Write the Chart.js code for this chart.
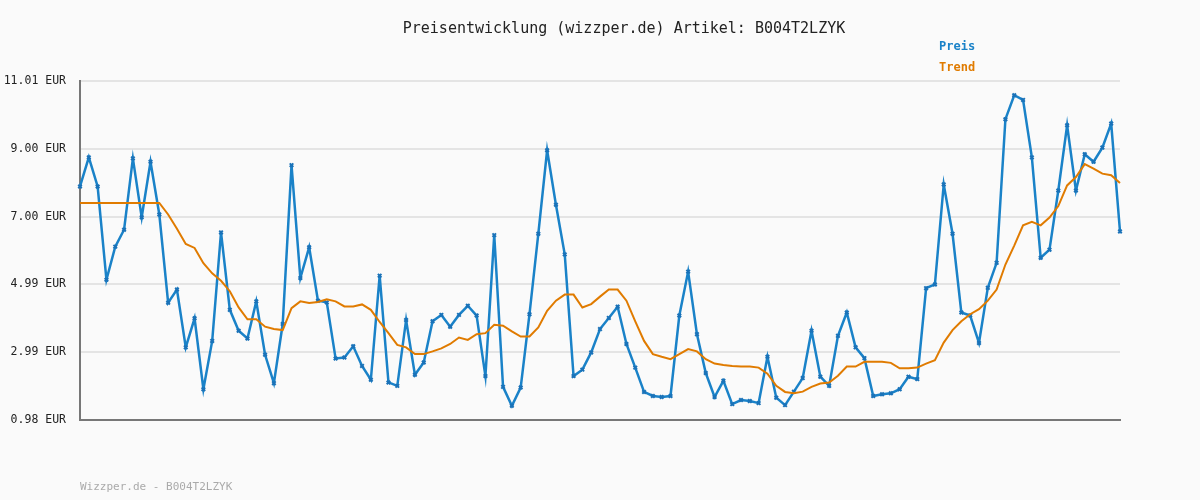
<!DOCTYPE html>
<html>
<head>
<meta charset="utf-8">
<script src="https://cdn.jsdelivr.net/npm/chart.js@4"></script>
<style>
  body { margin: 0; background: #fafafa; font-family: "DejaVu Sans Mono", monospace; }
  #wrap { position: relative; width: 1200px; height: 500px; }
  .txt { position: absolute; font-size: 13px; }
</style>
</head>
<body>
<div id="wrap">
  <canvas id="chart" width="1200" height="500"></canvas>
  <div class="txt" style="left:0;width:1248px;top:19px;text-align:center;color:#222;font-size:15px;">Preisentwicklung (wizzper.de) Artikel: B004T2LZYK</div>
  <div class="txt" style="left:939px;top:39px;color:#1a82c8;font-weight:bold;font-size:12px;">Preis</div>
  <div class="txt" style="left:939px;top:60px;color:#e07b00;font-weight:bold;font-size:12px;">Trend</div>
  <div class="txt" style="left:80px;top:480px;color:#aaa;font-size:11px;">Wizzper.de - B004T2LZYK</div>
</div>
<script>
const preis = [7.89,8.75,7.89,5.13,6.11,6.61,8.72,6.98,8.62,7.06,4.45,4.84,3.13,3.99,1.89,3.32,6.53,4.24,3.62,3.39,
  4.49,2.91,2.07,3.82,8.52,5.18,6.09,4.51,4.46,2.80,2.83,3.16,2.58,2.17,5.25,2.09,1.99,3.94,2.32,2.68,
  3.90,4.09,3.74,4.09,4.36,4.07,2.28,6.45,1.96,1.40,1.94,4.11,6.49,8.96,7.35,5.88,2.28,2.47,2.98,3.67,
  4.00,4.33,3.23,2.53,1.81,1.69,1.66,1.69,4.07,5.37,3.52,2.37,1.66,2.14,1.45,1.57,1.54,1.48,2.85,1.64,
  1.42,1.82,2.22,3.62,2.26,1.99,3.47,4.16,3.13,2.81,1.69,1.74,1.77,1.89,2.26,2.19,4.88,4.99,7.95,6.49,
  4.16,4.07,3.26,4.89,5.63,9.88,10.59,10.45,8.75,5.78,6.02,7.77,9.70,7.77,8.84,8.62,9.04,9.75,6.56];
const trend = [7.40,7.40,7.40,7.40,7.40,7.40,7.40,7.40,7.40,7.40,7.06,6.64,6.19,6.07,5.62,5.32,5.10,4.79,4.31,3.96,
  3.96,3.74,3.67,3.64,4.29,4.49,4.44,4.47,4.55,4.49,4.34,4.34,4.40,4.24,3.88,3.55,3.20,3.13,2.93,2.93,
  3.01,3.10,3.23,3.42,3.35,3.52,3.55,3.80,3.77,3.60,3.45,3.45,3.72,4.21,4.51,4.69,4.69,4.31,4.41,4.63,
  4.84,4.84,4.51,3.90,3.32,2.93,2.85,2.78,2.93,3.08,3.01,2.78,2.65,2.61,2.58,2.56,2.56,2.53,2.35,1.99,
  1.81,1.77,1.82,1.96,2.06,2.09,2.29,2.56,2.56,2.70,2.70,2.70,2.67,2.51,2.51,2.53,2.65,2.75,3.27,3.64,
  3.90,4.11,4.26,4.51,4.84,5.58,6.14,6.74,6.84,6.74,6.97,7.31,7.92,8.17,8.55,8.42,8.27,8.22,7.99];
const yTicks = [0.98, 2.99, 4.99, 7.00, 9.00, 11.01];
const labels = preis.map((_, i) => i + 1);

new Chart(document.getElementById('chart'), {
  type: 'line',
  data: {
    labels: labels,
    datasets: [
      { label: 'Trend', data: trend, borderColor: '#e07b00', borderWidth: 2, pointRadius: 0, tension: 0 },
      { label: 'Preis', data: preis, borderColor: '#1a82c8', borderWidth: 2.5, pointRadius: 2.5,
        pointStyle: 'crossRot', pointBorderColor: '#1a72b8', pointBorderWidth: 2, tension: 0 }
    ]
  },
  options: {
    responsive: false,
    animation: false,
    layout: { padding: { top: 81, right: 80, bottom: 80, left: 0 } },
    plugins: { legend: { display: false }, tooltip: { enabled: false } },
    scales: {
      x: {
        offset: false,
        ticks: { display: false },
        grid: { display: false },
        border: { color: '#777', width: 2 },
        afterFit: s => { s.height = 0; }
      },
      y: {
        min: 0.98, max: 11.01,
        afterBuildTicks: s => { s.ticks = yTicks.map(v => ({ value: v })); },
        afterFit: s => { s.width = 80; },
        ticks: {
          color: '#222', padding: 14,
          font: { family: 'DejaVu Sans Mono', size: 11.5 },
          callback: v => v.toFixed(2) + ' EUR'
        },
        grid: { color: '#e4e4e4', lineWidth: 2, drawTicks: false },
        border: { color: '#777', width: 2 }
      }
    }
  }
});
</script>
</body>
</html>
